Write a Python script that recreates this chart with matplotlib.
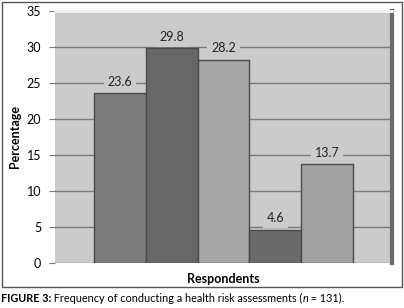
import matplotlib.pyplot as plt
from matplotlib.patches import Rectangle

values = [23.6, 29.8, 28.2, 4.6, 13.7]
colors = ["#7b7b7b", "#676767", "#a6a6a6", "#6a6a6a", "#a2a2a2"]
yticks = [0, 5, 10, 15, 20, 25, 30, 35]
caption = [("FIGURE 3:", "bold", "normal"),
           (" Frequency of conducting a health risk assessments (", "normal", "normal"),
           ("n", "normal", "italic"),
           (" = 131).", "normal", "normal")]

plt.rcParams['font.family'] = ['Lato', 'DejaVu Sans']

fig = plt.figure(figsize=(4.04, 3.08), dpi=100)
# outer frame around the chart
fig.patches.append(Rectangle((1.5 / 404, 21 / 308), 400 / 404, 285 / 308,
                             transform=fig.transFigure, fill=False,
                             edgecolor="#555555", linewidth=1))

ax = fig.add_axes([55 / 404, 45 / 308, 337 / 404, 252 / 308])
ax.set_facecolor("#cbcbcb")
ax.set_xlim(-1.25, 5.25)
ax.set_ylim(0, 35)
ax.set_yticks(yticks)
ax.tick_params(axis="y", labelsize=9, length=4, color="#777777", pad=6)
ax.set_xticks([])
ax.yaxis.grid(True, color="#7a7a7a", linewidth=1)
ax.set_axisbelow(True)
for s in ["left", "bottom"]:
    ax.spines[s].set_visible(False)
ax.spines["top"].set_color("#f2f2f2")
ax.spines["top"].set_linewidth(2)
ax.spines["right"].set_color("#6a6a6a")
ax.spines["right"].set_linewidth(3)

x = list(range(len(values)))
ax.bar(x, values, width=1.0, color=colors, edgecolor="#4a4a4a", linewidth=1, zorder=3)
for xi, v in zip(x, values):
    ax.annotate(f"{v}", (xi, v), xytext=(0, 4), textcoords="offset points",
                ha="center", va="bottom", fontsize=9, color="#222222", zorder=2,
                bbox=dict(boxstyle="square,pad=0.3", fc="#cbcbcb", ec="none"))

ax.set_ylabel("Percentage", fontsize=9, fontweight="bold", labelpad=4)
ax.set_xlabel("Respondents", fontsize=9, fontweight="bold", labelpad=7)

# caption built from pieces so bold / italic can be mixed
renderer = fig.canvas.get_renderer()
xpos = 1
for txt, weight, style in caption:
    t = fig.text(xpos / 404, 10 / 308, txt, fontsize=7.8, fontweight=weight,
                 fontstyle=style, va="center", ha="left")
    xpos += t.get_window_extent(renderer).width

fig.savefig("out.png", dpi=100)
